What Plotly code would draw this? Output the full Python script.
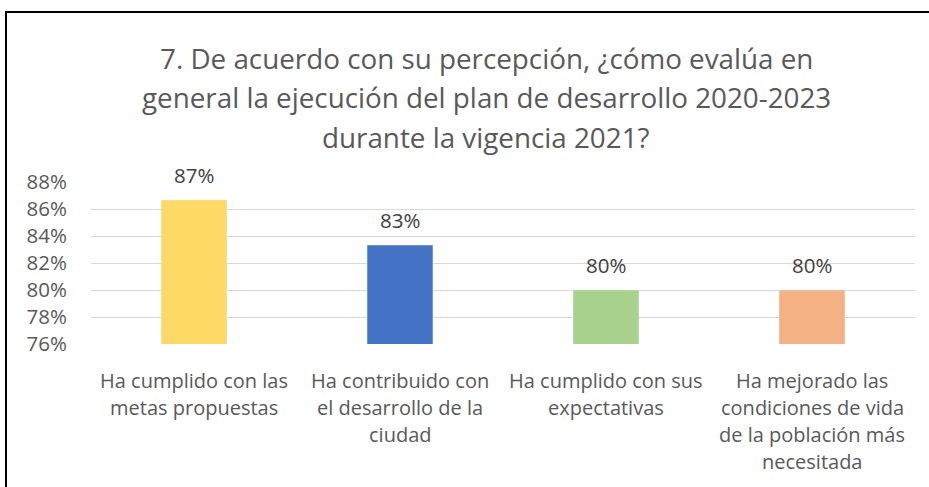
import plotly.graph_objects as go

categories = [
    "Ha cumplido con las<br>metas propuestas",
    "Ha contribuido con<br>el desarrollo de la<br>ciudad",
    "Ha cumplido con sus<br>expectativas",
    "Ha mejorado las<br>condiciones de vida<br>de la población más<br>necesitada",
]
values = [86.67, 83.33, 80.0, 80.0]
colors = ["#FFD966", "#4472C4", "#A9D18E", "#F4B183"]
tick_vals = [76, 78, 80, 82, 84, 86, 88]
tick_text = [f"{v}%" for v in tick_vals]
title_lines = [
    "7. De acuerdo con su percepción, ¿cómo evalúa en",
    "general la ejecución del plan de desarrollo 2020-2023",
    "durante la vigencia 2021?",
]

W, H = 929, 487
L, R, T, B = 91, 14, 182, 143
pw = W - L - R
ph = H - T - B
GRAY = "#595959"
FONT = "Open Sans"

fig = go.Figure(go.Bar(
    x=categories, y=values, marker_color=colors, width=0.32,
    cliponaxis=False, hoverinfo="x+y",
))

annotations = []
# title, one annotation per line
for i, line in enumerate(title_lines):
    annotations.append(dict(
        text=line, xref="paper", yref="paper",
        x=(486 - L) / pw, y=(H - B - (58 + 39.5 * i)) / ph,
        xanchor="center", yanchor="middle", showarrow=False,
        font=dict(size=27.8, color=GRAY, family=FONT),
    ))
# data labels
for c, v in zip(categories, values):
    annotations.append(dict(
        text=f"{v:.0f}%", x=c, y=v, xref="x", yref="y",
        xanchor="center", yanchor="middle", yshift=25, showarrow=False,
        font=dict(size=20.5, color="#404040", family=FONT),
    ))
# category labels, one annotation per line
for c in categories:
    for j, line in enumerate(c.split("<br>")):
        annotations.append(dict(
            text=line, x=c, y=0, xref="x", yref="paper",
            xanchor="center", yanchor="middle", yshift=-(36 + 27 * j),
            showarrow=False,
            font=dict(size=20, color=GRAY, family=FONT),
        ))

fig.update_layout(
    width=W, height=H,
    margin=dict(l=L, r=R, t=T, b=B, autoexpand=False),
    paper_bgcolor="white", plot_bgcolor="white",
    showlegend=False,
    font=dict(family=FONT, color=GRAY),
    yaxis=dict(range=[76, 88], tickvals=tick_vals, ticktext=tick_text,
               showgrid=True, gridcolor="#D9D9D9", gridwidth=1,
               zeroline=False, showline=False, ticks="",
               tickfont=dict(size=20.5, color=GRAY), ticklabelstandoff=23),
    xaxis=dict(showline=False, ticks="", showticklabels=False),
    annotations=annotations,
    shapes=[dict(
        type="rect", xref="paper", yref="paper",
        x0=(6 - L) / pw, x1=(W + 10 - L) / pw,
        y0=-(B + 10) / ph, y1=(H - B - 12) / ph,
        line=dict(color="black", width=2), fillcolor="rgba(0,0,0,0)",
    )],
)

fig.write_html("out.html", config={"displayModeBar": False},
               post_script="document.body.style.margin='0';")
